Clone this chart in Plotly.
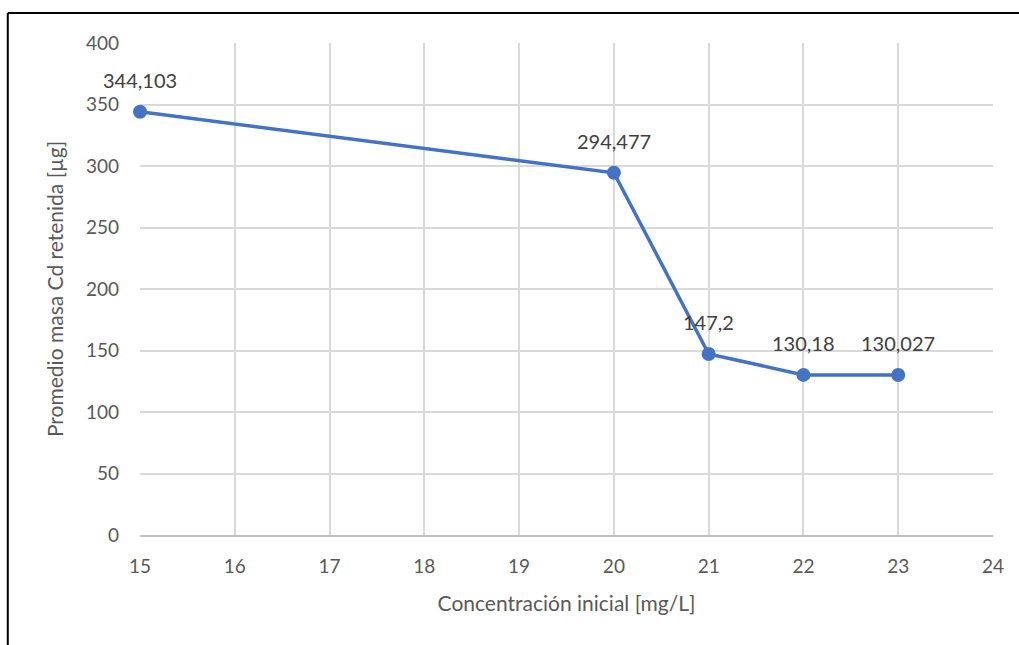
import plotly.graph_objects as go

conc = [15, 20, 21, 22, 23]
masa = [344.103, 294.477, 147.2, 130.18, 130.027]
labels = ["344,103", "294,477", "147,2", "130,18", "130,027"]
x_ticks = list(range(15, 25))
y_ticks = list(range(0, 401, 50))

FONT = "Lato"

fig = go.Figure()
fig.add_trace(go.Scatter(
    x=conc, y=masa, mode="lines+markers",
    line=dict(color="#4472C4", width=3.5),
    marker=dict(color="#4472C4", size=14),
    cliponaxis=False,
    hoverinfo="x+y", showlegend=False,
))
for xv, yv, t in zip(conc, masa, labels):
    fig.add_annotation(x=xv, y=yv, text=t, showarrow=False, yshift=32,
                       font=dict(family=FONT, size=20, color="#404040"))

fig.add_shape(type="line", xref="paper", yref="paper",
              x0=-0.155, x1=1.2, y0=1.061, y1=1.061,
              line=dict(color="black", width=2))
fig.add_shape(type="line", xref="paper", yref="paper",
              x0=-0.155, x1=-0.155, y0=-0.5, y1=1.061,
              line=dict(color="black", width=2))

fig.update_layout(
    width=1019, height=645,
    margin=dict(l=140, r=26, t=43, b=110),
    paper_bgcolor="white", plot_bgcolor="white",
    font=dict(family=FONT, color="#595959"),
)
fig.update_xaxes(
    range=[15, 24], tickvals=x_ticks, showgrid=True, gridcolor="#d9d9d9", gridwidth=1.5,
    zeroline=False, showline=True, linecolor="#bfbfbf", linewidth=1.5, mirror=False,
    tickfont=dict(size=19, color="#595959"), ticklabelstandoff=13,
    title=dict(text="Concentración inicial [mg/L]", font=dict(size=21, color="#595959"), standoff=21),
)
fig.update_yaxes(
    range=[0, 400], tickvals=y_ticks, showgrid=True, gridcolor="#d9d9d9", gridwidth=1.5,
    zeroline=False, showline=False,
    tickfont=dict(size=19, color="#595959"), ticklabelstandoff=20,
    title=dict(text="Promedio masa Cd retenida [µg]", font=dict(size=21, color="#595959"), standoff=16),
)
fig.write_html("out.html")
